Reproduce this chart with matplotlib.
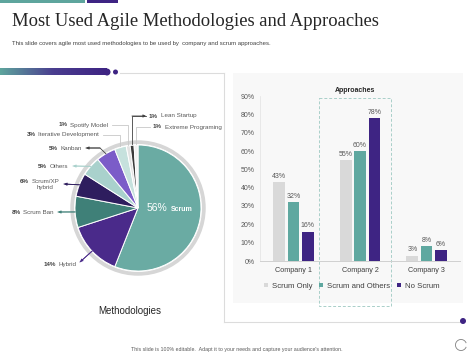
import numpy as np
import matplotlib
matplotlib.use("Agg")
import matplotlib.pyplot as plt
from matplotlib.patches import Rectangle, Circle, Arc
from matplotlib.offsetbox import TextArea, HPacker, AnnotationBbox

plt.rcParams['font.family'] = ['Liberation Sans', 'DejaVu Sans']

# ---------------- data ----------------
pie_labels = ["Scrum", "Hybrid", "Scrum Ban", "Scrum/XP\nhybrid", "Others", "Kanban",
              "Iterative Development", "Spotify Model", "Lean Startup", "Extreme Programing"]
pie_values = [56, 14, 8, 6, 5, 5, 3, 1, 1, 1]
pie_colors = ["#6aaba3", "#4a2a8a", "#3f8078", "#2e1d5e", "#a9d1cc", "#7b5cc8",
              "#c6e1dd", "#e3e3e3", "#3a3a3a", "#f2f2f2"]

companies = ["Company 1", "Company 2", "Company 3"]
series_names = ["Scrum Only", "Scrum and Others", "No Scrum"]
scrum_only = [43, 55, 3]
scrum_others = [32, 60, 8]
no_scrum = [16, 78, 6]
series_colors = ["#d9d9d9", "#5fa8a0", "#3e2483"]
yticks = [0, 10, 20, 30, 40, 50, 60, 70, 80, 90]

W, H = 474, 355
fig = plt.figure(figsize=(W / 100, H / 100), dpi=100)
fig.patch.set_facecolor("white")


def rect(x0, y0, x1, y1):
    return [x0 / W, 1 - y1 / H, (x1 - x0) / W, (y1 - y0) / H]


# background overlay (pixel coords)
bg = fig.add_axes([0, 0, 1, 1])
bg.set_xlim(0, W); bg.set_ylim(H, 0); bg.axis("off")

TEAL = "#5ea59d"; PURP = "#3e2483"
bg.add_patch(Rectangle((0, 0), 85, 2.5, color=TEAL, lw=0))
bg.add_patch(Rectangle((87, 0), 31, 2.5, color=PURP, lw=0))

bg.text(12, 22, "Most Used Agile Methodologies and Approaches", family="Liberation Serif",
        fontsize=13.4, color="#262626", va="center", ha="left")
bg.text(12, 44, "This slide covers agile most used methodologies to be used by  company and scrum approaches.",
        fontsize=4.3, color="#404040", va="center", ha="left")

# gradient bar
grad = np.linspace(0, 1, 256).reshape(1, -1)
cmap = matplotlib.colors.LinearSegmentedColormap.from_list("g", [TEAL, "#4a3d8f", PURP])
bg.imshow(grad, extent=(0, 107, 75.5, 68.5), cmap=cmap, aspect="auto", zorder=2)
bg.add_patch(Circle((107, 72), 3.5, color=PURP, lw=0, zorder=2))
bg.add_patch(Circle((115.5, 72), 2.5, color=PURP, lw=0, zorder=2))
bg.set_xlim(0, W); bg.set_ylim(H, 0)

# panel lines
lc = "#dcdcdc"
bg.plot([120, 224], [73, 73], color=lc, lw=0.8)
bg.plot([224, 224], [73, 322], color=lc, lw=0.8)
bg.plot([224, 460], [322, 322], color=lc, lw=0.8)
bg.add_patch(Circle((463, 321), 3, color=PURP, lw=0, zorder=3))

# right panel background
bg.add_patch(Rectangle((233, 73), 230, 230, color="#f8f8f8", lw=0, zorder=0))
bg.add_patch(Rectangle((319, 98), 72, 208, fill=False, ec="#a9cfc9", lw=0.7, ls=(0, (3, 2)), zorder=1))

bg.text(237, 349, "This slide is 100% editable.  Adapt it to your needs and capture your audience's attention.",
        fontsize=3.8, color="#595959", ha="center", va="center")
bg.add_patch(Arc((461, 345), 11, 11, theta1=20, theta2=340, color="#7f7f7f", lw=0.6))

bg.text(130, 311, "Methodologies", fontsize=7, color="#262626", ha="center", va="center")

# ---------------- pie ----------------
CX, CY, R = 138, 208, 63
half = 85
pa = fig.add_axes(rect(CX - half, CY - half, CX + half, CY + half))
pa.set_xlim(-half / R, half / R); pa.set_ylim(-half / R, half / R); pa.axis("off")
pa.patch.set_visible(False)
pa.add_patch(Circle((0, 0), 1.075, color="#d6d6d6", lw=0, zorder=0))
pa.add_patch(Circle((0, 0), 1.015, color="white", lw=0, zorder=0))
wedges, _ = pa.pie(pie_values, colors=pie_colors, startangle=90, counterclock=False,
                   wedgeprops=dict(edgecolor="white", linewidth=0.7))
pa.set_xlim(-half / R, half / R); pa.set_ylim(-half / R, half / R)
pa.set_aspect("equal")

inner = HPacker(children=[TextArea("56%", textprops=dict(color="white", fontsize=7.5)),
                          TextArea("Scrum", textprops=dict(color="white", fontsize=5, weight="bold"))],
                sep=2, align="baseline", pad=0)
pa.add_artist(AnnotationBbox(inner, (0.5, 0.0), xycoords="data", frameon=False,
                             box_alignment=(0.5, 0.5), pad=0))

fg = fig.add_axes([0, 0, 1, 1])
fg.set_xlim(0, W); fg.set_ylim(H, 0); fg.axis("off"); fg.patch.set_visible(False)


def edge_point(i, r=1.0):
    cum = np.cumsum([0] + pie_values)
    mid = (cum[i] + cum[i + 1]) / 2 / sum(pie_values)
    a = np.deg2rad(90 - 360 * mid)
    return CX + R * r * np.cos(a), CY - R * r * np.sin(a)


def leader(pts, color, arrow=True):
    xs = [p[0] for p in pts]; ys = [p[1] for p in pts]
    fg.plot(xs, ys, color=color, lw=0.6)
    if arrow:
        fg.annotate("", xy=pts[-1], xytext=pts[-2],
                    arrowprops=dict(arrowstyle="-|>", color=color, lw=0.6, mutation_scale=4,
                                    shrinkA=0, shrinkB=0))


def label(x, y, pct, name, align):
    box = HPacker(children=[TextArea(pct, textprops=dict(fontsize=4.5, weight="bold", color="#404040")),
                            TextArea(name, textprops=dict(fontsize=4.5, color="#595959",
                                                          multialignment="center"))],
                  sep=2, align="top", pad=0)
    fg.add_artist(AnnotationBbox(box, (x, y), xycoords="data", frameon=False,
                                 box_alignment=(0 if align == "left" else 1, 0.5), pad=0))


dark = "#404040"; light = "#c8c8c8"; tl = "#a9d1cc"
# Lean Startup (8)
x, y = edge_point(8, 1.02)
leader([(x, y), (x, 116), (146, 116)], dark)
label(149, 116, "1%", pie_labels[8], "left")
# Extreme Programing (9)
x, y = edge_point(9, 1.02)
leader([(x, y), (x, 127), (150, 127)], light, arrow=False)
label(153, 127, "1%", pie_labels[9], "left")
# Spotify (7)
x, y = edge_point(7, 1.02)
leader([(x, y), (x, 125), (112, 125)], light, arrow=False)
label(108, 125, "1%", pie_labels[7], "right")
# Iterative (6)
x, y = edge_point(6, 1.02)
leader([(x, y), (x, 134.5), (103, 134.5)], light, arrow=False)
label(99, 134.5, "3%", pie_labels[6], "right")
# Kanban (5)
x, y = edge_point(5, 1.0)
leader([(x, y), (100, 148), (86, 148)], dark)
label(82, 148, "5%", pie_labels[5], "right")
# Others (4)
x, y = edge_point(4, 1.0)
leader([(x, y), (73, 166)], tl)
label(68, 166, "5%", pie_labels[4], "right")
# Scrum/XP (3)
x, y = edge_point(3, 1.0)
leader([(x, y), (64, 184)], "#2e1d5e")
fg.add_artist(AnnotationBbox(
    HPacker(children=[TextArea("6%", textprops=dict(fontsize=4.5, weight="bold", color="#404040")),
                      TextArea(pie_labels[3], textprops=dict(fontsize=4.5, color="#595959",
                                                             multialignment="center"))],
            sep=2, align="top", pad=0),
    (59, 179), xycoords="data", frameon=False, box_alignment=(1, 1), pad=0))
# Scrum Ban (2)
x, y = edge_point(2, 1.0)
leader([(x, y), (58, 212)], "#3f8078")
label(54, 212, "8%", pie_labels[2], "right")
# Hybrid (1)
x, y = edge_point(1, 1.0)
leader([(x, y), (80, 262)], "#4a2a8a")
label(77, 264.5, "14%", pie_labels[1], "right")

# ---------------- bars ----------------
ba = fig.add_axes(rect(260, 96, 460, 261))
ba.patch.set_visible(False)
xpos = np.arange(len(companies))
bw, off = 0.175, 0.215
for k, (vals, col) in enumerate(zip([scrum_only, scrum_others, no_scrum], series_colors)):
    bars = ba.bar(xpos + (k - 1) * off, vals, width=bw, color=col, label=series_names[k], zorder=2)
    for b, v in zip(bars, vals):
        ba.text(b.get_x() + b.get_width() / 2, v + 1.2, f"{v}%", ha="center", va="bottom",
                fontsize=5, color="#595959")
ba.set_xlim(-0.5, 2.5)
ba.set_ylim(0, 90)
ba.set_yticks(yticks)
ba.set_yticklabels([f"{t}%" for t in yticks])
ba.set_xticks(xpos)
ba.set_xticklabels(companies)
ba.tick_params(axis="both", length=0, labelsize=5, colors="#595959", pad=4)
ba.tick_params(axis="x", labelsize=5.2, colors="#404040", pad=4)
for s in ["top", "right"]:
    ba.spines[s].set_visible(False)
ba.spines["left"].set_color("#e6e6e6"); ba.spines["left"].set_linewidth(0.6)
ba.spines["bottom"].set_color("#d0d0d0"); ba.spines["bottom"].set_linewidth(0.7)
ba.set_title("Approaches", fontsize=5, weight="bold", color="#262626", pad=3)
ba.title.set_position((0.475, 1.0))
leg = ba.legend(loc="center", bbox_to_anchor=(352 / W, 1 - 286 / H), bbox_transform=fig.transFigure,
                ncol=3, frameon=False, fontsize=5.6, handlelength=0.5, handleheight=0.5,
                handletextpad=0.5, columnspacing=0.9, labelcolor="#404040")

fig.savefig("out.png", dpi=100, facecolor="white")
